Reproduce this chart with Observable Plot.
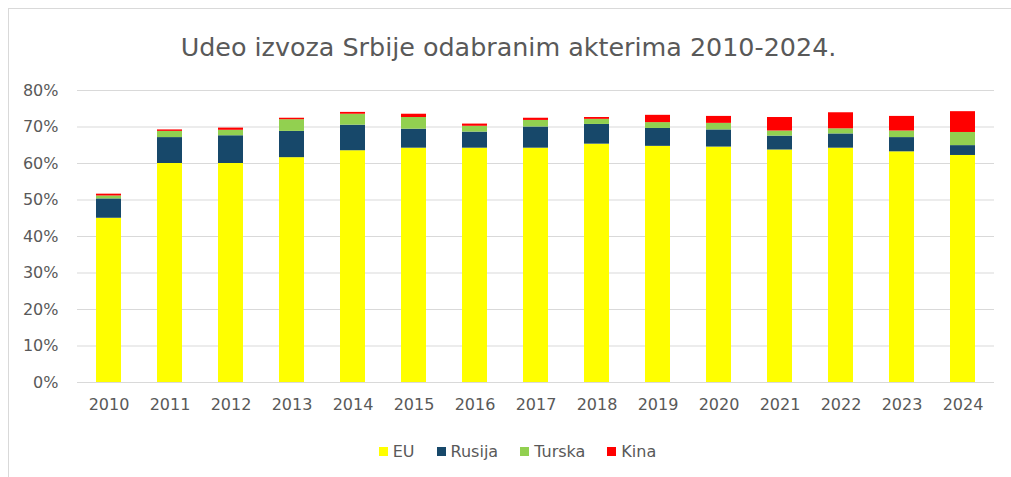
<!DOCTYPE html>
<html>
<head>
<meta charset="utf-8">
<script src="https://cdn.jsdelivr.net/npm/d3@7"></script>
<script src="https://cdn.jsdelivr.net/npm/@observablehq/plot@0.6"></script>
<style>
  html, body { margin: 0; padding: 0; background: #fff; }
  body { width: 1011px; height: 477px; position: relative; overflow: hidden; font-family: "DejaVu Sans", sans-serif; }
  #frame { position: absolute; left: 8px; top: 8px; width: 1100px; height: 600px; border: 1px solid #d9d9d9; box-sizing: border-box; pointer-events: none; }
  #title { height: 75px; line-height: 94px; text-align: center; font-size: 25.4px; color: #595959; padding-left: 6px; }
  #legend { display: flex; justify-content: center; gap: 22px; font-size: 16px; color: #595959; margin-top: 12px; padding-left: 24px; }
  #legend span.item { display: inline-flex; align-items: center; gap: 5px; }
  #legend span.sw { display: inline-block; width: 9px; height: 9px; }
</style>
</head>
<body>
<div id="frame"></div>
<div id="title">Udeo izvoza Srbije odabranim akterima 2010-2024.</div>
<div id="chart"></div>
<div id="legend"></div>
<script>
const years = ["2010","2011","2012","2013","2014","2015","2016","2017","2018","2019","2020","2021","2022","2023","2024"];
const seriesNames = ["EU", "Rusija", "Turska", "Kina"];
const seriesColors = ["#ffff00", "#17486a", "#92d050", "#ff0000"];
const eu     = [45.0, 60.0, 60.0, 61.6, 63.5, 64.2, 64.2, 64.2, 65.3, 64.7, 64.5, 63.7, 64.2, 63.2, 62.2];
const rusija = [5.3, 7.1, 7.6, 7.2, 7.0, 5.2, 4.4, 5.8, 5.4, 4.9, 4.7, 3.8, 3.9, 3.9, 2.7];
const turska = [0.8, 1.7, 1.5, 3.2, 3.0, 3.2, 1.6, 1.8, 1.4, 1.6, 1.8, 1.4, 1.4, 1.8, 3.6];
const kina   = [0.5, 0.4, 0.6, 0.4, 0.5, 0.9, 0.6, 0.6, 0.5, 2.0, 1.9, 3.7, 4.4, 4.0, 5.7];
const yTicks = [0, 10, 20, 30, 40, 50, 60, 70, 80];

const seriesValues = [eu, rusija, turska, kina];
const data = [];
seriesNames.forEach((name, si) => {
  years.forEach((yr, i) => data.push({year: yr, series: name, value: seriesValues[si][i]}));
});

const chart = Plot.plot({
  width: 1011,
  height: 355,
  marginTop: 15,
  marginBottom: 48,
  marginLeft: 77,
  marginRight: 17,
  style: {fontFamily: "'DejaVu Sans', sans-serif", fontSize: "16px", color: "#595959", background: "#fff"},
  x: {domain: years, paddingInner: 0.59, paddingOuter: 0.295, label: null, tickSize: 0, tickPadding: 17},
  y: {domain: [0, 80], ticks: yTicks, tickFormat: d => d + "%", label: null, tickSize: 0, tickPadding: 19},
  color: {domain: seriesNames, range: seriesColors},
  marks: [
    Plot.gridY(yTicks, {stroke: "#d9d9d9", strokeOpacity: 1, strokeWidth: 1}),
    Plot.barY(data, {x: "year", y: "value", fill: "series", order: seriesNames}),
    Plot.axisX({tickSize: 0, tickPadding: 16, fontSize: 16}),
    Plot.axisY({ticks: yTicks, tickFormat: d => d + "%", tickSize: 0, tickPadding: 19, fontSize: 16})
  ]
});
document.getElementById("chart").appendChild(chart);

const legend = document.getElementById("legend");
seriesNames.forEach((name, i) => {
  const item = document.createElement("span");
  item.className = "item";
  const sw = document.createElement("span");
  sw.className = "sw";
  sw.style.background = seriesColors[i];
  item.appendChild(sw);
  item.appendChild(document.createTextNode(name));
  legend.appendChild(item);
});
</script>
</body>
</html>
